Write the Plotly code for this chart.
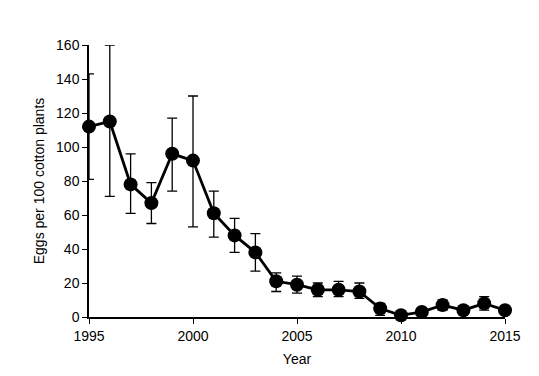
import plotly.graph_objects as go

years = list(range(1995, 2016))
eggs = [112, 115, 78, 67, 96, 92, 61, 48, 38, 21, 19, 16, 16, 15, 5, 1, 3, 7, 4, 8, 4]
upper = [143, 160, 96, 79, 117, 130, 74, 58, 49, 26, 24, 20, 21, 20, 8, 1.5, 4.5, 10, 6, 12, 6]
lower = [81, 71, 61, 55, 74, 53, 47, 38, 27, 15, 14, 12, 12, 11, 1, 0.5, 1.5, 4, 2, 4, 2]

err_plus = [u - v for u, v in zip(upper, eggs)]
err_minus = [v - l for v, l in zip(eggs, lower)]

fig = go.Figure()
fig.add_trace(go.Scatter(
    x=years, y=eggs, mode="lines+markers",
    line=dict(color="black", width=2.8),
    marker=dict(color="black", size=14),
    error_y=dict(type="data", symmetric=False, array=err_plus, arrayminus=err_minus,
                 color="black", thickness=1.3, width=5),
    cliponaxis=False, showlegend=False,
))

font = "Liberation Sans, Arial, sans-serif"
fig.update_layout(
    width=531, height=368,
    margin=dict(l=81, r=34, t=37, b=59),
    paper_bgcolor="white", plot_bgcolor="white",
    font=dict(family=font, size=14, color="black"),
    xaxis=dict(range=[1995, 2015], tickvals=[1995, 2000, 2005, 2010, 2015],
               showline=True, linecolor="black", linewidth=1.5,
               ticks="outside", ticklen=5, tickcolor="black",
               showgrid=False, zeroline=False,
               title=dict(text="Year", font=dict(size=14), standoff=12)),
    yaxis=dict(range=[0, 160], tickvals=list(range(0, 161, 20)),
               showline=True, linecolor="black", linewidth=1.5,
               ticks="outside", ticklen=5, tickcolor="black",
               showgrid=False, zeroline=False,
               title=dict(text="Eggs per 100 cotton plants", font=dict(size=14), standoff=8)),
)
fig.write_html("out.html")
